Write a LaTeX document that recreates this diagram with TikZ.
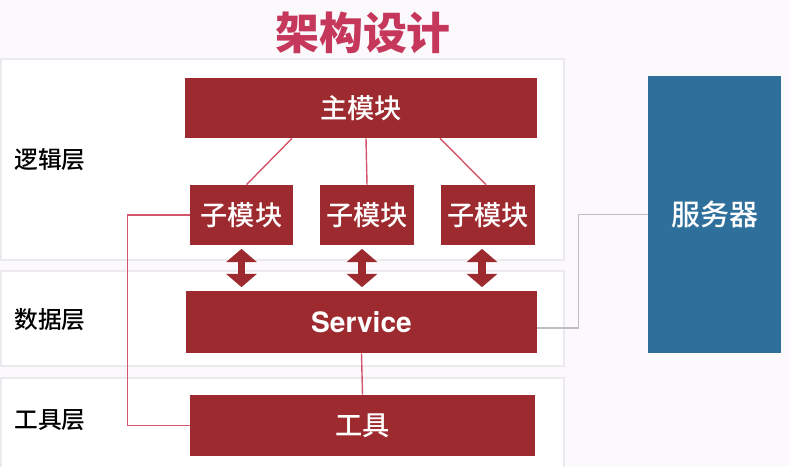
\documentclass[tikz,border=0pt]{standalone}
\usepackage{fontspec}
\setmainfont{Noto Sans CJK SC}
\newfontfamily\medio{Noto Sans CJK SC}[UprightFont=* Medium, BoldFont=* Bold]
\newfontfamily\heros{TeX Gyre Heros}
\usepackage{tikz}
\usetikzlibrary{arrows.meta, positioning, calc}
\definecolor{rojoModulo}{RGB}{157, 42, 47}
\definecolor{rojoTitulo}{RGB}{197, 56, 92}
\definecolor{rojoLinea}{RGB}{212, 86, 108}
\definecolor{azulServidor}{RGB}{46, 111, 156}
\definecolor{fondoClaro}{RGB}{251, 249, 252}
\definecolor{bordeCapa}{RGB}{236, 234, 238}

\begin{document}
\begin{tikzpicture}[x=0.02cm, y=-0.02cm,
        capa/.style={draw=bordeCapa, fill=white, line width=0.6pt},
        modulo/.style={rectangle, fill=rojoModulo, text=white, inner sep=0pt, font=\medio\fontsize{15.5}{17}\selectfont},
        servidor/.style={rectangle, fill=azulServidor, text=white, inner sep=0pt, font=\medio\fontsize{16.5}{18}\selectfont},
        etiqueta/.style={font=\medio\fontsize{13.5}{15}\selectfont, text=black},
        enlace/.style={rojoLinea, line width=0.8pt},
        enlaceGris/.style={black!25, line width=0.6pt},
        flecha/.style={{Triangle[width=17pt,length=7.5pt]}-{Triangle[width=17pt,length=7.5pt]}, line width=4.5pt, rojoModulo, shorten <=2pt, shorten >=2pt}]

    % fondo y capas
    \fill[fondoClaro] (0,0) rectangle (790,466);
    \useasboundingbox (0,0) rectangle (790,466);
    \draw[capa] (1,59) rectangle (564,260);
    \draw[capa] (1,271) rectangle (564,366);
    \draw[capa] (1,378) rectangle (564,470);

    \node[font=\fontsize{25}{28}\selectfont\bfseries, text=rojoTitulo] (titulo) at (363,33) {架构设计};

    \node[etiqueta] (logica) at (50,160) {逻辑层};
    \node[etiqueta] (datos) at (50,320) {数据层};
    \node[etiqueta] (herr) at (50,420) {工具层};

    % modulos
    \node[modulo, minimum width=7.04cm, minimum height=1.2cm] (main) at (361,108) {主模块};
    \node[modulo, minimum width=2.06cm, minimum height=1.2cm] (sub1) at (241.5,215) {子模块};
    \node[modulo, minimum width=1.88cm, minimum height=1.2cm] (sub2) at (367,215) {子模块};
    \node[modulo, minimum width=1.88cm, minimum height=1.2cm] (sub3) at (488,215) {子模块};
    \node[modulo, minimum width=7.02cm, minimum height=1.24cm, font=\heros\fontsize{16}{18}\selectfont\bfseries] (svc) at (361.5,322) {Service};
    \node[modulo, minimum width=6.9cm, minimum height=1.22cm] (tool) at (362.5,425.5) {工具};
    \node[servidor, minimum width=2.66cm, minimum height=5.54cm] (server) at (714.5,214.5) {服务器};

    % conexiones
    \draw[enlace] ([xshift=-1.38cm]main.south) -- ([xshift=0.1cm]sub1.north);
    \draw[enlace] ([xshift=0.1cm]main.south) -- (sub2.north);
    \draw[enlace] ([xshift=1.58cm]main.south) -- ([xshift=-0.04cm]sub3.north);

    \draw[flecha] (sub1.south) -- (sub1.south |- svc.north);
    \draw[flecha] ([xshift=-0.1cm]sub2.south) -- ([xshift=-0.1cm]sub2.south |- svc.north);
    \draw[flecha] ([xshift=-0.12cm]sub3.south) -- ([xshift=-0.12cm]sub3.south |- svc.north);

    \draw[enlace] (svc.south) -- (tool.north);
    \draw[enlace] (sub1.west) -- ++(-62,0) |- (tool.west);
    \draw[enlaceGris] ([yshift=-0.12cm]svc.east) -- ++(41,0) |- (server.west);
\end{tikzpicture}
\end{document}
